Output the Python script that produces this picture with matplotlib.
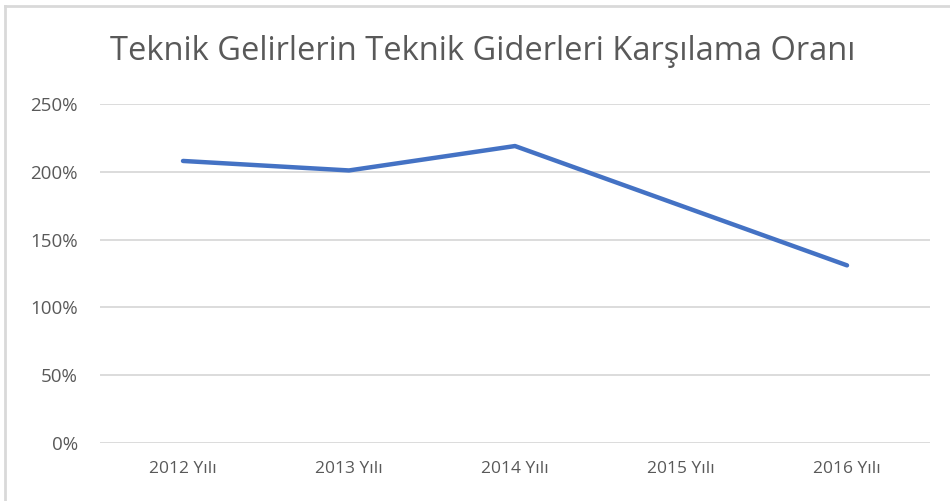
import matplotlib.pyplot as plt
from matplotlib.lines import Line2D
from matplotlib.ticker import FuncFormatter

# Veriler
yillar = ["2012 Yılı", "2013 Yılı", "2014 Yılı", "2015 Yılı", "2016 Yılı"]
oranlar = [208, 201, 219, 175, 131]
y_ticks = [0, 50, 100, 150, 200, 250]

plt.rcParams['font.family'] = ['Open Sans', 'DejaVu Sans']

fig = plt.figure(figsize=(9.5, 5.01), dpi=100)
ax = fig.add_axes([100 / 950, 1 - 443 / 501, 830 / 950, (443 - 104) / 501])

x = list(range(len(yillar)))
ax.plot(x, oranlar, color="#4472C4", linewidth=3.2, solid_capstyle="round")

ax.set_xlim(-0.5, len(yillar) - 0.5)
ax.set_ylim(0, 250)
ax.set_yticks(y_ticks)
ax.yaxis.set_major_formatter(FuncFormatter(lambda v, p: f"{v:.0f}%"))
ax.set_xticks(x)
ax.set_xticklabels(yillar)

ax.grid(axis="y", color="#d9d9d9", linewidth=1.3)
ax.set_axisbelow(True)
for s in ax.spines.values():
    s.set_visible(False)
ax.tick_params(axis="both", length=0, colors="#595959")
ax.tick_params(axis="y", pad=16, labelsize=13.5)
ax.tick_params(axis="x", pad=13, labelsize=12.5)

fig.text(483 / 950, 1 - 52 / 501, "Teknik Gelirlerin Teknik Giderleri Karşılama Oranı",
         ha="center", va="center", fontsize=23.5, color="#595959")

# Çerçeve (üst ve sol)
fig.add_artist(Line2D([5 / 950, 1], [1 - 6 / 501, 1 - 6 / 501], transform=fig.transFigure,
                      color="#d9d9d9", linewidth=2))
fig.add_artist(Line2D([5 / 950, 5 / 950], [0, 1 - 6 / 501], transform=fig.transFigure,
                      color="#d9d9d9", linewidth=2))

fig.savefig("out.png", dpi=100)
